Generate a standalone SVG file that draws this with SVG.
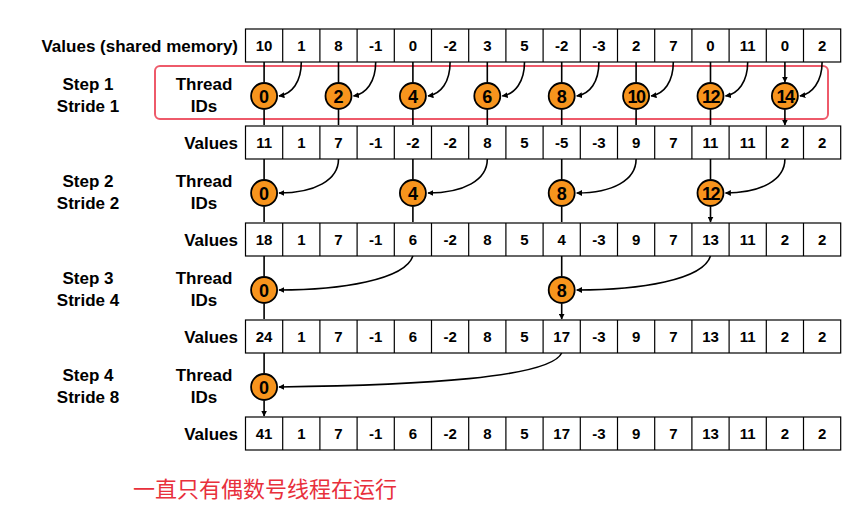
<svg xmlns="http://www.w3.org/2000/svg" width="854" height="513" viewBox="0 0 854 513">
<style>
.t{font-family:"Liberation Sans",Arial,sans-serif;font-weight:bold;fill:#000}
.v{font-size:15px;text-anchor:middle}
.l{font-size:17px}
.c{fill:#f7941d;stroke:#000;stroke-width:1.8}
.cn{font-size:18px;text-anchor:middle}
.a{fill:none;stroke:#000;stroke-width:1.6;marker-end:url(#ah)}
.g{fill:#fff;stroke:#000;stroke-width:1.2}
</style>
<defs>
<marker id="ah" viewBox="0 0 10 10" refX="9" refY="5" markerWidth="6" markerHeight="6" orient="auto" markerUnits="userSpaceOnUse"><path d="M0,0L10,5L0,10z" fill="#000"/></marker>
<g id="grid"><rect class="g" x="245.5" y="0" width="595.2" height="33" stroke-width="2.4"/><path stroke="#000" stroke-width="1.2" d="M282.7 0V33M319.9 0V33M357.1 0V33M394.3 0V33M431.5 0V33M468.7 0V33M505.9 0V33M543.1 0V33M580.3 0V33M617.5 0V33M654.7 0V33M691.9 0V33M729.1 0V33M766.3 0V33M803.5 0V33"/></g>
</defs>
<rect width="854" height="513" fill="#fff"/>
<rect x="155" y="66" width="673" height="53" rx="5" fill="none" stroke="#ee5a6a" stroke-width="2"/>
<g id="rows">
<use href="#grid" y="29"/><use href="#grid" y="126"/><use href="#grid" y="223"/><use href="#grid" y="320"/><use href="#grid" y="417"/>
</g>
<g id="labels" class="t l">
<text x="238" y="52" text-anchor="end">Values (shared memory)</text>
<text x="238" y="149" text-anchor="end">Values</text>
<text x="238" y="246" text-anchor="end">Values</text>
<text x="238" y="343" text-anchor="end">Values</text>
<text x="238" y="440" text-anchor="end">Values</text>
<g text-anchor="middle">
<text x="88" y="90">Step 1</text><text x="88" y="112">Stride 1</text>
<text x="88" y="187">Step 2</text><text x="88" y="209">Stride 2</text>
<text x="88" y="284">Step 3</text><text x="88" y="306">Stride 4</text>
<text x="88" y="381">Step 4</text><text x="88" y="403">Stride 8</text>
<text x="204" y="90">Thread</text><text x="204" y="112">IDs</text>
<text x="204" y="187">Thread</text><text x="204" y="209">IDs</text>
<text x="204" y="284">Thread</text><text x="204" y="306">IDs</text>
<text x="204" y="381">Thread</text><text x="204" y="403">IDs</text>
</g>
</g>
<g id="values" class="t v">
<g transform="translate(0,51)"><text x="264.1">10</text><text x="301.3">1</text><text x="338.5">8</text><text x="375.7">-1</text><text x="412.9">0</text><text x="450.1">-2</text><text x="487.3">3</text><text x="524.5">5</text><text x="561.7">-2</text><text x="598.9">-3</text><text x="636.1">2</text><text x="673.3">7</text><text x="710.5">0</text><text x="747.7">11</text><text x="784.9">0</text><text x="822.1">2</text></g>
<g transform="translate(0,148)"><text x="264.1">11</text><text x="301.3">1</text><text x="338.5">7</text><text x="375.7">-1</text><text x="412.9">-2</text><text x="450.1">-2</text><text x="487.3">8</text><text x="524.5">5</text><text x="561.7">-5</text><text x="598.9">-3</text><text x="636.1">9</text><text x="673.3">7</text><text x="710.5">11</text><text x="747.7">11</text><text x="784.9">2</text><text x="822.1">2</text></g>
<g transform="translate(0,245)"><text x="264.1">18</text><text x="301.3">1</text><text x="338.5">7</text><text x="375.7">-1</text><text x="412.9">6</text><text x="450.1">-2</text><text x="487.3">8</text><text x="524.5">5</text><text x="561.7">4</text><text x="598.9">-3</text><text x="636.1">9</text><text x="673.3">7</text><text x="710.5">13</text><text x="747.7">11</text><text x="784.9">2</text><text x="822.1">2</text></g>
<g transform="translate(0,342)"><text x="264.1">24</text><text x="301.3">1</text><text x="338.5">7</text><text x="375.7">-1</text><text x="412.9">6</text><text x="450.1">-2</text><text x="487.3">8</text><text x="524.5">5</text><text x="561.7">17</text><text x="598.9">-3</text><text x="636.1">9</text><text x="673.3">7</text><text x="710.5">13</text><text x="747.7">11</text><text x="784.9">2</text><text x="822.1">2</text></g>
<g transform="translate(0,439)"><text x="264.1">41</text><text x="301.3">1</text><text x="338.5">7</text><text x="375.7">-1</text><text x="412.9">6</text><text x="450.1">-2</text><text x="487.3">8</text><text x="524.5">5</text><text x="561.7">17</text><text x="598.9">-3</text><text x="636.1">9</text><text x="673.3">7</text><text x="710.5">13</text><text x="747.7">11</text><text x="784.9">2</text><text x="822.1">2</text></g>
</g>
<g id="connectors">
<path class="a" d="M264.1 62V82M338.5 62V82M412.9 62V82M487.3 62V82M561.7 62V82M636.1 62V82M710.5 62V82M784.9 62V82"/>
<path class="a" d="M264.1 110V125M338.5 110V125M412.9 110V125M487.3 110V125M561.7 110V125M636.1 110V125M710.5 110V125M784.9 110V125"/>
<path class="a" d="M301.3 62C301.3 82 292 94 279 96"/>
<path class="a" d="M375.7 62C375.7 82 366 94 353.5 96"/>
<path class="a" d="M450.1 62C450.1 82 441 94 428 96"/>
<path class="a" d="M524.5 62C524.5 82 515 94 502.3 96"/>
<path class="a" d="M598.9 62C598.9 82 590 94 576.7 96"/>
<path class="a" d="M673.3 62C673.3 82 664 94 651.1 96"/>
<path class="a" d="M747.7 62C747.7 82 738 94 725.5 96"/>
<path class="a" d="M822.1 62C822.1 82 812 94 799.9 96"/>
<path class="a" d="M264.1 159V179M412.9 159V179M561.7 159V179M710.5 159V179M264.1 207V222M412.9 207V222M561.7 207V222M710.5 207V222"/>
<path class="a" d="M338.5 159C338.5 180 315 193 279 193"/>
<path class="a" d="M487.3 159C487.3 180 464 193 428 193"/>
<path class="a" d="M636.1 159C636.1 180 613 193 576.7 193"/>
<path class="a" d="M784.9 159C784.9 180 761 193 725.5 193"/>
<path class="a" d="M264.1 256V276M561.7 256V276M264.1 304V319M561.7 304V319"/>
<path class="a" d="M412.9 256C405 280 340 290 279 290"/>
<path class="a" d="M710.5 256C703 280 640 290 576.7 290"/>
<path class="a" d="M264.1 353V373M264.1 401V416"/>
<path class="a" d="M561.7 353C550 378 420 385 279 387"/>
</g>
<g id="threads">
<g class="t cn">
<circle class="c" cx="264.1" cy="96" r="13"/><text x="264.1" y="102.5">0</text>
<circle class="c" cx="338.5" cy="96" r="13"/><text x="338.5" y="102.5">2</text>
<circle class="c" cx="412.9" cy="96" r="13"/><text x="412.9" y="102.5">4</text>
<circle class="c" cx="487.3" cy="96" r="13"/><text x="487.3" y="102.5">6</text>
<circle class="c" cx="561.7" cy="96" r="13"/><text x="561.7" y="102.5">8</text>
<circle class="c" cx="636.1" cy="96" r="13"/><text x="636.1" y="102.5" letter-spacing="-1.5">10</text>
<circle class="c" cx="710.5" cy="96" r="13"/><text x="710.5" y="102.5" letter-spacing="-1.5">12</text>
<circle class="c" cx="784.9" cy="96" r="13"/><text x="784.9" y="102.5" letter-spacing="-1.5">14</text>
<circle class="c" cx="264.1" cy="193" r="13"/><text x="264.1" y="199.5">0</text>
<circle class="c" cx="412.9" cy="193" r="13"/><text x="412.9" y="199.5">4</text>
<circle class="c" cx="561.7" cy="193" r="13"/><text x="561.7" y="199.5">8</text>
<circle class="c" cx="710.5" cy="193" r="13"/><text x="710.5" y="199.5" letter-spacing="-1.5">12</text>
<circle class="c" cx="264.1" cy="290" r="13"/><text x="264.1" y="296.5">0</text>
<circle class="c" cx="561.7" cy="290" r="13"/><text x="561.7" y="296.5">8</text>
<circle class="c" cx="264.1" cy="387" r="13"/><text x="264.1" y="393.5">0</text>
</g>
</g>
<text x="133" y="497" font-family="'Noto Sans CJK SC',sans-serif" font-size="22" fill="#e8303c">一直只有偶数号线程在运行</text>
</svg>
